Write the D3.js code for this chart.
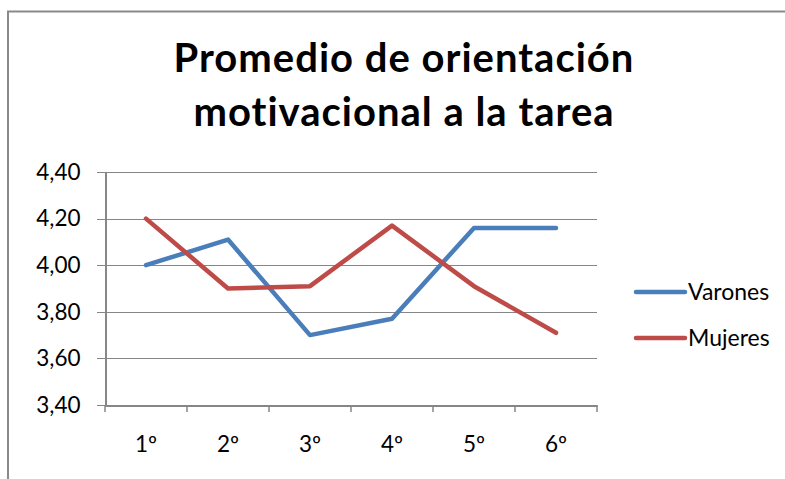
<!DOCTYPE html>
<html><head><meta charset="utf-8">
<script src="https://cdn.jsdelivr.net/npm/d3@7"></script>
<style>body{margin:0;background:#fff}svg{display:block}</style>
</head><body>
<svg id="c" width="785" height="479"></svg>
<script>
const categories = ["1º","2º","3º","4º","5º","6º"];
const varones = [4.00, 4.11, 3.70, 3.77, 4.16, 4.16];
const mujeres = [4.20, 3.90, 3.91, 4.17, 3.91, 3.71];
const yTicks = [3.40, 3.60, 3.80, 4.00, 4.20, 4.40];
const seriesNames = ["Varones","Mujeres"];
const colors = ["#4A7EBB","#BE4B48"];
const titleLines = ["Promedio de orientación","motivacional a la tarea"];

const svg = d3.select("#c");
const font = "Lato, 'Open Sans', sans-serif";
svg.append("rect").attr("x",8).attr("y",11.5).attr("width",800).attr("height",500)
  .attr("fill","#fff").attr("stroke","#898989").attr("stroke-width",2);

const x = d3.scaleBand().domain(categories).range([105,597]);
const y = d3.scaleLinear().domain([3.4,4.4]).range([405,172]);

// gridlines
svg.append("g").selectAll("line").data(yTicks).join("line")
  .attr("x1",97).attr("x2",597).attr("y1",d=>Math.round(y(d))+0.5).attr("y2",d=>Math.round(y(d))+0.5)
  .attr("stroke","#868686").attr("stroke-width",1);

// y axis
const ya = svg.append("g").attr("transform","translate(105.5,0)")
  .call(d3.axisLeft(y).tickValues(yTicks).tickSize(0).tickPadding(25)
    .tickFormat(d=>d3.format(".2f")(d).replace(".",",")));
ya.select(".domain").attr("stroke","#868686").attr("stroke-width",2);
ya.selectAll("text").attr("font-family",font).attr("font-size",22.5).attr("fill","#000");

// x axis
const xa = svg.append("g").attr("transform","translate(0,405.5)")
  .call(d3.axisBottom(x).tickSize(0).tickPadding(31));
xa.select(".domain").attr("stroke","#868686").attr("stroke-width",2);
xa.selectAll("text").attr("font-family",font).attr("font-size",22.5).attr("fill","#000");
const bounds = [x.range()[0]].concat(categories.map(c=>x(c)+x.bandwidth()));
svg.append("g").selectAll("line").data(bounds).join("line")
  .attr("x1",d=>d).attr("x2",d=>d).attr("y1",405).attr("y2",412)
  .attr("stroke","#868686").attr("stroke-width",1.5);

// lines
const line = d3.line().x((d,i)=>x(categories[i])+x.bandwidth()/2).y(d=>y(d));
[varones,mujeres].forEach((s,k)=>{
  svg.append("path").datum(s).attr("d",line).attr("fill","none")
    .attr("stroke",colors[k]).attr("stroke-width",4.5).attr("stroke-linejoin","round").attr("stroke-linecap","round");
});

// legend
const lg = svg.append("g");
seriesNames.forEach((n,k)=>{
  const ly = 292 + k*46;
  lg.append("line").attr("x1",636).attr("x2",685).attr("y1",ly).attr("y2",ly)
    .attr("stroke",colors[k]).attr("stroke-width",4.5).attr("stroke-linecap","round");
  lg.append("text").attr("x",688).attr("y",ly).attr("dy","0.35em").text(n)
    .attr("font-family",font).attr("font-size",23).attr("fill","#000");
});

// title
svg.append("g").selectAll("text").data(titleLines).join("text")
  .attr("x",404).attr("y",(d,i)=>72+i*54).attr("text-anchor","middle")
  .attr("font-family",font).attr("font-weight","bold").attr("font-size",40)
  .attr("letter-spacing",1).attr("fill","#000")
  .text(d=>d);
</script>
</body></html>
